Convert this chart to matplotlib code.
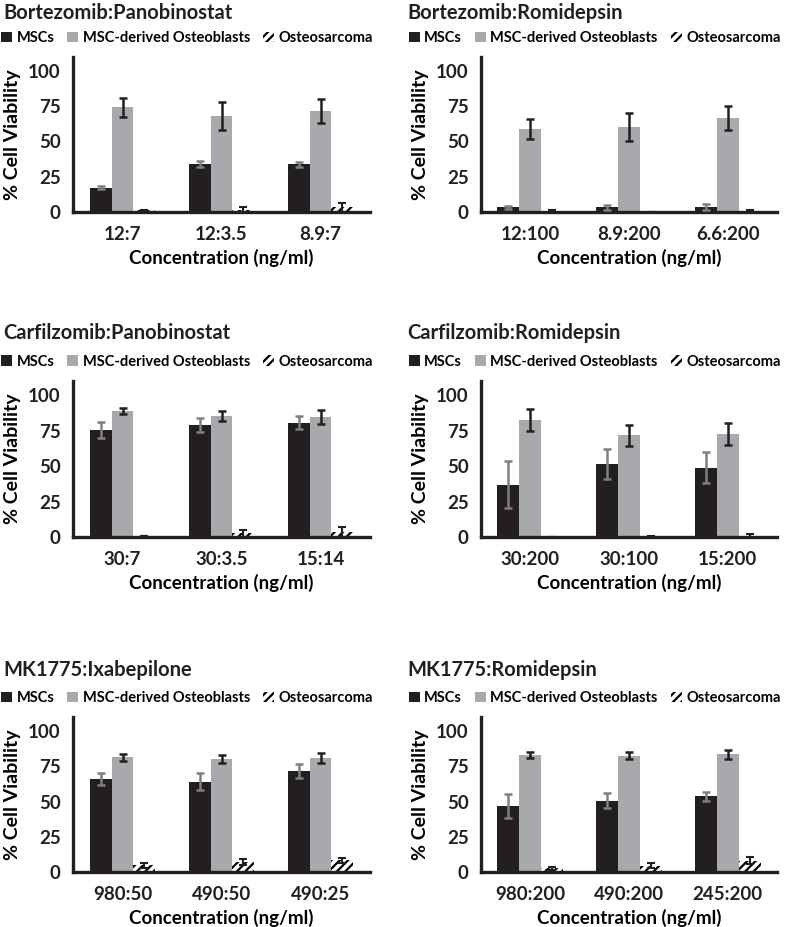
import matplotlib
matplotlib.use("Agg")
import matplotlib.pyplot as plt
import numpy as np

plt.rcParams['font.family'] = ['Lato', 'DejaVu Sans']
plt.rcParams['font.weight'] = 'bold'
plt.rcParams['hatch.linewidth'] = 1.6

titles = ["Bortezomib:Panobinostat", "Bortezomib:Romidepsin",
          "Carfilzomib:Panobinostat", "Carfilzomib:Romidepsin",
          "MK1775:Ixabepilone", "MK1775:Romidepsin"]
cats = [["12:7", "12:3.5", "8.9:7"], ["12:100", "8.9:200", "6.6:200"],
        ["30:7", "30:3.5", "15:14"], ["30:200", "30:100", "15:200"],
        ["980:50", "490:50", "490:25"], ["980:200", "490:200", "245:200"]]

msc = [[17.0, 34.0, 33.6], [3.0, 3.0, 3.5],
       [75.7, 79.0, 80.6], [37.0, 51.6, 49.0],
       [66.0, 64.2, 71.5], [47.0, 50.6, 53.6]]
msc_err = [[1.0, 2.0, 2.0], [1.2, 1.5, 2.0],
           [5.6, 5.0, 4.5], [16.5, 10.7, 11.0],
           [4.5, 5.9, 4.8], [8.4, 5.3, 3.4]]

osteob = [[74.2, 68.3, 71.4], [58.6, 60.5, 66.6],
          [88.8, 85.3, 84.6], [82.6, 71.6, 72.6],
          [81.4, 80.0, 81.0], [83.1, 82.4, 83.4]]
osteob_err = [[7.0, 10.0, 8.5], [7.0, 10.0, 8.5],
              [2.2, 3.3, 5.0], [8.0, 7.7, 7.5],
              [2.4, 2.7, 3.5], [1.9, 2.5, 3.2]]

osteos = [[1.0, 1.0, 3.0], [0.5, 0.0, 0.5],
          [0.7, 2.5, 3.5], [0.0, 0.3, 1.0],
          [4.7, 7.0, 8.2], [2.6, 4.4, 8.0]]
osteos_err = [[0.3, 2.0, 3.5], [1.0, 0.0, 1.0],
              [0.2, 2.5, 3.5], [0.0, 0.2, 1.0],
              [2.0, 2.0, 2.0], [1.2, 1.8, 2.3]]

W, H = 787, 927
fig = plt.figure(figsize=(W / 100, H / 100), dpi=100)

col_left = [73, 481]
col_w = [297, 296]
row_top = [57, 381, 717]
row_bot = [211.7, 537, 872]
title_x = [3, 407]
title_y = [13, 333, 670]

dark = '#231f20'
grey = '#a7a9ac'
w = 0.222

for i in range(6):
    r, c = i // 2, i % 2
    h_px = row_bot[r] - row_top[r]
    ax = fig.add_axes([col_left[c] / W, 1 - row_bot[r] / H,
                       col_w[c] / W, h_px / H])
    x = np.arange(3)
    ax.bar(x - w, msc[i], w, color=dark, label='MSCs', zorder=2)
    ax.bar(x, osteob[i], w, color=grey, label='MSC-derived Osteoblasts', zorder=2)
    ax.bar(x + w, osteos[i], w, color='white', edgecolor='black', linewidth=0,
           hatch='////', label='Osteosarcoma', zorder=2)
    ax.errorbar(x - w, msc[i], yerr=msc_err[i], fmt='none', ecolor='#808080',
                elinewidth=1.8, capsize=3, capthick=1.8, zorder=3)
    ax.errorbar(x, osteob[i], yerr=osteob_err[i], fmt='none', ecolor='#231f20',
                elinewidth=1.8, capsize=3, capthick=1.8, zorder=3)
    ax.errorbar(x + w, osteos[i], yerr=osteos_err[i], fmt='none', ecolor='#231f20',
                elinewidth=1.5, capsize=3, capthick=1.5, zorder=3)

    ax.set_xlim(-0.5, 2.5)
    ax.set_ylim(0, 110)
    ax.set_yticks([0, 25, 50, 75, 100])
    ax.set_xticks(x)
    ax.set_xticklabels(cats[i])
    ax.tick_params(length=0, labelsize=13.5, colors='#231f20')
    ax.tick_params(axis='y', pad=9)
    ax.tick_params(axis='x', pad=10)
    for s in ['top', 'right']:
        ax.spines[s].set_visible(False)
    for s in ['left', 'bottom']:
        ax.spines[s].set_linewidth(2.4)
        ax.spines[s].set_color('#231f20')
    ax.set_ylabel('% Cell Viability', fontsize=14, fontweight='bold', labelpad=5)
    ax.set_xlabel('Concentration (ng/ml)', fontsize=13.5, fontweight='bold',
                  va='center')
    ax.xaxis.set_label_coords(0.5, -46 / h_px)
    ax.legend(loc='center', bbox_to_anchor=(0.384, 1.123), ncol=3, frameon=False,
              fontsize=10.5, handlelength=0.75, handleheight=0.75, handletextpad=0.3,
              columnspacing=0.9, borderaxespad=0)
    fig.text(title_x[c] / W, 1 - title_y[r] / H, titles[i], fontsize=14.5,
             fontweight='bold', ha='left', va='center', color='#231f20')

fig.savefig('out.png', dpi=100)
